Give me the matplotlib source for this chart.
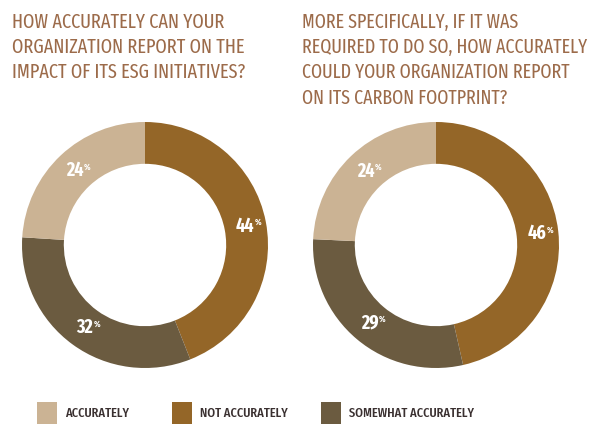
import numpy as np
import matplotlib.pyplot as plt
from matplotlib.patches import Rectangle

plt.rcParams['font.family'] = ['Fira Sans Extra Condensed', 'DejaVu Sans']

categories = ["ACCURATELY", "NOT ACCURATELY", "SOMEWHAT ACCURATELY"]
colors = ["#CBB394", "#946628", "#6B5B40"]

titles = [
    "HOW ACCURATELY CAN YOUR\nORGANIZATION REPORT ON THE\nIMPACT OF ITS ESG INITIATIVES?",
    "MORE SPECIFICALLY, IF IT WAS\nREQUIRED TO DO SO, HOW ACCURATELY\nCOULD YOUR ORGANIZATION REPORT\nON ITS CARBON FOOTPRINT?",
]
# values in category order: accurately, not accurately, somewhat accurately
esg_values = [24, 44, 32]
carbon_values = [24, 46, 29]
# drawn clockwise from 12 o'clock: not accurately, somewhat, accurately
draw_order = [1, 2, 0]

W, H = 600, 440
fig = plt.figure(figsize=(6, 4.4), dpi=100)
renderer = fig.canvas.get_renderer()


def fit_width(t, target_px):
    # scale font so the text block is as wide as in the reference
    for _ in range(3):
        w = t.get_window_extent(renderer).width
        t.set_fontsize(t.get_fontsize() * target_px / w)
    return t.get_fontsize()


for cx, vals, title, tx, tw in zip([145, 436], [esg_values, carbon_values], titles,
                                   [12, 302], [234, 285]):
    R = 123
    ax = fig.add_axes([(cx - R) / W, (H - 245 - R) / H, 2 * R / W, 2 * R / H])
    wedges, _ = ax.pie([vals[i] for i in draw_order], colors=[colors[i] for i in draw_order],
                       startangle=90, counterclock=False, radius=1,
                       wedgeprops=dict(width=0.34, edgecolor='none'))
    ax.set_xlim(-1, 1)
    ax.set_ylim(-1, 1)
    ax.set_aspect('equal')
    for w, i in zip(wedges, draw_order):
        ang = np.deg2rad((w.theta1 + w.theta2) / 2)
        r = 0.83
        t = ax.text(r * np.cos(ang), r * np.sin(ang), str(vals[i]), color='white',
                    fontsize=14, fontweight='bold', ha='center', va='center')
        ax.annotate('%', xy=(1, 0.92), xycoords=t, ha='left', va='top',
                    color='white', fontsize=6.5, fontweight='bold')
    tt = fig.text(tx / W, 1 - 12 / H, title, ha='left', va='top', fontsize=15,
                  color='#9C6B4A', linespacing=1.0)
    fs = fit_width(tt, tw)
    # line pitch about 26 px as in the reference
    tt.set_linespacing(26 / (fs * 100 / 72 * 0.97))

# legend
sw_x = [37, 172, 321]
leg_texts = []
for x0, lab, c in zip(sw_x, categories, colors):
    fig.patches.append(Rectangle((x0 / W, 1 - 424 / H), 20 / W, 22 / H,
                                 transform=fig.transFigure, facecolor=c, edgecolor='none'))
    leg_texts.append(fig.text((x0 + 28) / W, 1 - 413 / H, lab, ha='left', va='center',
                              fontsize=10, color='#3A3030', fontweight='medium'))
lfs = fit_width(leg_texts[2], 125)
for lt in leg_texts:
    lt.set_fontsize(lfs)

fig.savefig('out.png', dpi=100)
